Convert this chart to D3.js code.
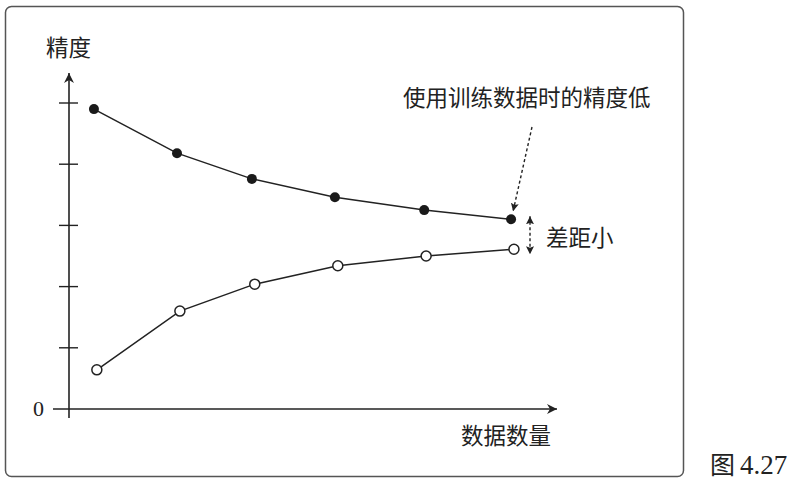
<!DOCTYPE html>
<html><head><meta charset="utf-8">
<script src="https://cdn.jsdelivr.net/npm/d3@7/dist/d3.min.js"></script>
<style>
html,body{margin:0;padding:0;background:#fff;}
svg{display:block;}
</style></head>
<body>
<script>
// Data (arbitrary units)
const trainX = [5.2, 22.5, 38.1, 55.4, 74.0, 92.1];
const trainY = [4.90, 4.18, 3.76, 3.46, 3.25, 3.10];
const testX  = [5.8, 23.1, 38.7, 56.0, 74.4, 92.7];
const testY  = [0.64, 1.60, 2.04, 2.34, 2.50, 2.61];
const yTickValues = [0, 1, 2, 3, 4, 5];
const yTickLabels = ["0"];
const yTitle = "精度";
const xTitle = "数据数量";
const noteTop = "使用训练数据时的精度低";
const noteGap = "差距小";
const figLabel = "图 4.27";

const W = 797, H = 484;
const svg = d3.select("body").append("svg").attr("width", W).attr("height", H);

const defs = svg.append("defs");
defs.append("marker").attr("id","ah").attr("viewBox","0 0 10 10").attr("refX",10).attr("refY",5)
  .attr("markerWidth",10).attr("markerHeight",10).attr("markerUnits","userSpaceOnUse").attr("orient","auto-start-reverse")
  .append("path").attr("d","M0,0 L10,5 L0,10 L3,5 Z").attr("fill","#222");
defs.append("marker").attr("id","ahs").attr("viewBox","0 0 10 10").attr("refX",10).attr("refY",5)
  .attr("markerWidth",8).attr("markerHeight",8).attr("markerUnits","userSpaceOnUse").attr("orient","auto-start-reverse")
  .append("path").attr("d","M0,0 L10,5 L0,10 L2,5 Z").attr("fill","#222");

// Frame
svg.append("rect").attr("x",5.5).attr("y",6.5).attr("width",678).attr("height",470)
  .attr("rx",6).attr("fill","none").attr("stroke","#555").attr("stroke-width",1.5);

const x = d3.scaleLinear().domain([0,100]).range([69,549]);
const y = d3.scaleLinear().domain([0,5]).range([409,103]);

const ink = "#222";
const serif = "'Liberation Serif', 'DejaVu Serif', serif";
const cjk = "'Noto Sans CJK SC', sans-serif";

// Axes
svg.append("line").attr("x1",53).attr("x2",557).attr("y1",y(0)).attr("y2",y(0))
  .attr("stroke",ink).attr("stroke-width",1.6).attr("marker-end","url(#ah)");
svg.append("line").attr("x1",x(0)).attr("x2",x(0)).attr("y1",418).attr("y2",73)
  .attr("stroke",ink).attr("stroke-width",1.6).attr("marker-end","url(#ah)");

// Y ticks (crossing the axis)
svg.append("g").selectAll("line").data(yTickValues.filter(v=>v>0)).join("line")
  .attr("x1",x(0)-10).attr("x2",x(0)+9).attr("y1",d=>y(d)).attr("y2",d=>y(d))
  .attr("stroke",ink).attr("stroke-width",1.4);
svg.append("g").selectAll("text").data(yTickLabels).join("text")
  .attr("x",44).attr("y",(d,i)=>y(yTickValues[i])+7).attr("text-anchor","end")
  .style("font-family",serif).attr("font-size",22).attr("fill","#222")
  .text(d=>d);

svg.append("text").attr("x",46).attr("y",56).style("font-family",cjk).attr("font-size",22.5).attr("fill","#222").text(yTitle);
svg.append("text").attr("x",461).attr("y",444).style("font-family",cjk).attr("font-size",22.5).attr("fill","#222").text(xTitle);
svg.append("text").attr("x",403).attr("y",106).style("font-family",cjk).attr("font-size",22.5).attr("fill","#222").text(noteTop);
svg.append("text").attr("x",546).attr("y",246).style("font-family",cjk).attr("font-size",22.5).attr("fill","#222").text(noteGap);
const fig = svg.append("text").attr("x",710).attr("y",474).attr("fill","#222");
fig.append("tspan").style("font-family",cjk).attr("font-size",25).text(figLabel.split(" ")[0]);
fig.append("tspan").style("font-family",serif).attr("font-size",27).attr("dx",5).text(figLabel.split(" ")[1]);

// Lines
const line = d3.line().x(d=>x(d[0])).y(d=>y(d[1]));
const train = trainX.map((v,i)=>[v,trainY[i]]);
const test = testX.map((v,i)=>[v,testY[i]]);
svg.append("path").datum(train).attr("d",line).attr("fill","none").attr("stroke",ink).attr("stroke-width",1.5);
svg.append("path").datum(test).attr("d",line).attr("fill","none").attr("stroke",ink).attr("stroke-width",1.5);
svg.append("g").selectAll("circle").data(train).join("circle")
  .attr("cx",d=>x(d[0])).attr("cy",d=>y(d[1])).attr("r",5).attr("fill","#1a1a1a");
svg.append("g").selectAll("circle").data(test).join("circle")
  .attr("cx",d=>x(d[0])).attr("cy",d=>y(d[1])).attr("r",5).attr("fill","#fff").attr("stroke",ink).attr("stroke-width",1.5);

// Annotation arrows
const lastT = train[train.length-1], lastV = test[test.length-1];
svg.append("line").attr("x1",532).attr("y1",127).attr("x2",x(lastT[0])+2).attr("y2",y(lastT[1])-8)
  .attr("stroke",ink).attr("stroke-width",1.4).attr("stroke-dasharray","3,2.5").attr("marker-end","url(#ahs)");
svg.append("line").attr("x1",530).attr("x2",530).attr("y1",y(lastT[1])-3).attr("y2",y(lastV[1])+5)
  .attr("stroke",ink).attr("stroke-width",1.4).attr("stroke-dasharray","3,2.5")
  .attr("marker-start","url(#ahs)").attr("marker-end","url(#ahs)");
</script>
</body></html>
